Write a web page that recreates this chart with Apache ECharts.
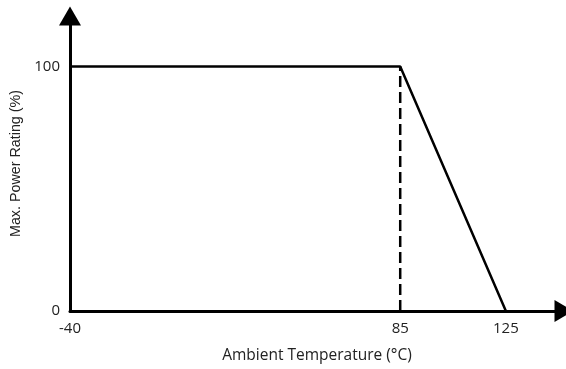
<!DOCTYPE html>
<html>
<head>
<meta charset="utf-8">
<script src="https://cdn.jsdelivr.net/npm/echarts@6/dist/echarts.min.js"></script>
<style>html,body{margin:0;padding:0;background:#fff}#c{width:566px;height:369px}</style>
</head>
<body>
<div id="c"></div>
<script>
var xTicks = [-40, 85, 125];
var yTicks = [0, 100];
var curveX = [-40, 85, 125];
var curveY = [100, 100, 0];
var dashX = [85, 85];
var dashY = [0, 100];
var xTitle = 'Ambient Temperature (°C)';
var yTitle = 'Max. Power Rating (%)';

var chart = echarts.init(document.getElementById('c'));
var font = '"Open Sans", "DejaVu Sans", sans-serif';
chart.setOption({
  animation: false,
  grid: {left: 70, right: 2, top: 16, bottom: 56, containLabel: false},
  xAxis: {
    type: 'value', min: -40, max: 147,
    name: xTitle, nameLocation: 'middle', nameGap: 37,
    nameTextStyle: {color: '#222', fontSize: 15.5, fontFamily: font},
    axisLine: {show: true, onZero: false, symbol: ['none', 'triangle'], symbolSize: [22, 19],
      lineStyle: {color: '#000', width: 3}},
    axisTick: {show: false},
    splitLine: {show: false},
    axisLabel: {customValues: xTicks, color: '#222', fontSize: 15, fontFamily: font, margin: 10}
  },
  yAxis: {
    type: 'value', min: 0, max: 120.7,
    name: yTitle, nameLocation: 'middle', nameGap: 43,
    nameTextStyle: {color: '#222', fontSize: 14.3, fontFamily: '"Liberation Sans", Arial, sans-serif'},
    axisLine: {show: true, onZero: false, symbol: ['none', 'triangle'], symbolSize: [22, 19],
      lineStyle: {color: '#000', width: 3}},
    axisTick: {show: false},
    splitLine: {show: false},
    axisLabel: {customValues: yTicks, color: '#222', fontSize: 15, fontFamily: font, margin: 10}
  },
  series: [
    {type: 'line', data: curveX.map(function (x, i) { return [x, curveY[i]]; }),
      symbol: 'none', lineStyle: {color: '#000', width: 2.5}, z: 3},
    {type: 'line', data: dashX.map(function (x, i) { return [x, dashY[i]]; }),
      symbol: 'none', lineStyle: {color: '#000', width: 2.5, type: [11, 5]}, z: 2}
  ]
});
</script>
</body>
</html>
